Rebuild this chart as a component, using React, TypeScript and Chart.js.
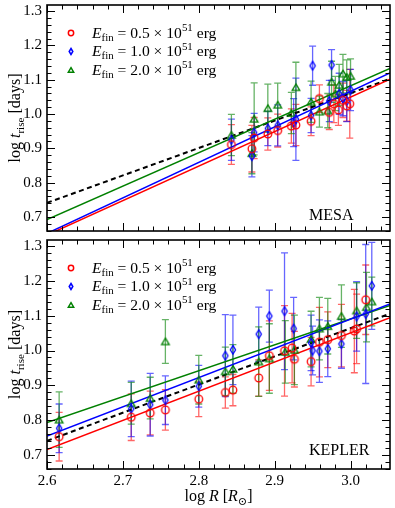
import React, { useEffect, useRef } from "react";
import { Chart, registerables } from "chart.js";

Chart.register(...registerables);

const FONT = '"Liberation Serif", "DejaVu Serif", serif';
const X_MIN = 2.6;
const X_MAX = 3.052;
const Y_MIN = 0.659;
const Y_MAX = 1.318;
const X_TICKS = [2.6, 2.7, 2.8, 2.9, 3.0];
const Y_TICKS = [0.7, 0.8, 0.9, 1.0, 1.1, 1.2, 1.3];
const MINOR_STEP = 0.02;

const ENERGY_LABELS = ["0.5", "1.0", "2.0"];
const SERIES_COLORS = ["#ff0000", "#0000ff", "#008000"];
const ERROR_COLORS = ["rgba(255,0,0,0.6)", "rgba(0,0,255,0.6)", "rgba(0,128,0,0.6)"];
const FIT_COLORS = ["#ff0000", "#0000ff", "#008000", "#000000"];

// ---------- MESA (top panel) ----------
const MESA_RED_X = [2.843, 2.870, 2.873, 2.891, 2.904, 2.922, 2.928, 2.948, 2.959, 2.972, 2.978, 2.984, 2.990, 2.995, 2.999];
const MESA_RED_Y = [0.911, 0.899, 0.930, 0.942, 0.952, 0.965, 0.968, 0.979, 1.045, 1.005, 1.030, 1.012, 1.040, 1.024, 1.030];
const MESA_RED_ERR = [0.058, 0.068, 0.06, 0.047, 0.048, 0.05, 0.06, 0.042, 0.04, 0.05, 0.055, 0.045, 0.05, 0.045, 0.1];

const MESA_BLUE_X = [2.843, 2.870, 2.873, 2.891, 2.904, 2.925, 2.928, 2.948, 2.950, 2.972, 2.975, 2.985, 2.990, 2.995, 3.000];
const MESA_BLUE_Y = [0.925, 0.877, 0.946, 0.958, 0.967, 0.975, 0.985, 0.996, 1.141, 1.038, 1.143, 1.059, 1.045, 1.038, 1.070];
const MESA_BLUE_ERR = [0.06, 0.06, 0.056, 0.05, 0.06, 0.07, 0.12, 0.05, 0.057, 0.06, 0.045, 0.06, 0.05, 0.06, 0.06];

const MESA_GREEN_X = [2.843, 2.870, 2.873, 2.891, 2.904, 2.922, 2.928, 2.948, 2.959, 2.970, 2.975, 2.980, 2.985, 2.990, 2.995, 3.000];
const MESA_GREEN_Y = [0.939, 0.886, 0.986, 1.017, 1.027, 1.003, 1.078, 1.036, 1.007, 1.010, 1.094, 1.060, 1.085, 1.118, 1.108, 1.111];
const MESA_GREEN_ERR = [0.06, 0.06, 0.105, 0.07, 0.063, 0.06, 0.073, 0.06, 0.045, 0.05, 0.06, 0.05, 0.06, 0.056, 0.05, 0.05];

// fit lines: value at X_MIN (2.6) and slope; order red, blue, green, all (dashed)
const MESA_FIT_AT_XMIN = [0.647, 0.652, 0.692, 0.741];
const MESA_FIT_SLOPE = [1.006, 1.035, 0.975, 0.80];

// ---------- KEPLER (bottom panel) ----------
const KEP_RED_X = [2.616, 2.711, 2.736, 2.756, 2.800, 2.835, 2.845, 2.879, 2.893, 2.913, 2.923, 2.926, 2.948, 2.959, 2.970, 2.988, 3.005, 3.008, 3.020];
const KEP_RED_Y = [0.752, 0.808, 0.820, 0.829, 0.860, 0.879, 0.886, 0.921, 0.985, 0.999, 1.007, 0.975, 0.968, 1.024, 1.031, 1.043, 1.056, 1.062, 1.146];
const KEP_RED_ERR = [0.07, 0.067, 0.063, 0.058, 0.05, 0.045, 0.045, 0.052, 0.1, 0.13, 0.1, 0.08, 0.07, 0.1, 0.08, 0.09, 0.12, 0.1, 0.1];

const KEP_BLUE_X = [2.616, 2.711, 2.736, 2.756, 2.800, 2.835, 2.845, 2.879, 2.893, 2.913, 2.925, 2.948, 2.950, 2.959, 2.970, 2.988, 3.008, 3.020, 3.028];
const KEP_BLUE_Y = [0.776, 0.832, 0.844, 0.857, 0.897, 0.985, 1.002, 1.047, 1.099, 1.113, 1.063, 1.022, 1.000, 0.998, 1.005, 1.019, 1.098, 1.105, 1.186];
const KEP_BLUE_ERR = [0.07, 0.08, 0.09, 0.07, 0.06, 0.118, 0.1, 0.078, 0.075, 0.168, 0.09, 0.08, 0.07, 0.09, 0.08, 0.07, 0.1, 0.2, 0.125];

const KEP_GREEN_X = [2.616, 2.711, 2.736, 2.756, 2.800, 2.835, 2.845, 2.879, 2.893, 2.914, 2.926, 2.948, 2.959, 2.970, 2.988, 3.008, 3.021, 3.028];
const KEP_GREEN_Y = [0.801, 0.848, 0.863, 1.026, 0.916, 0.940, 0.947, 0.968, 0.977, 0.996, 1.002, 1.033, 1.063, 1.070, 1.099, 1.115, 1.125, 1.141];
const KEP_GREEN_ERR = [0.08, 0.06, 0.06, 0.063, 0.07, 0.07, 0.07, 0.1, 0.1, 0.09, 0.1, 0.08, 0.09, 0.08, 0.09, 0.08, 0.1, 0.07];

const KEP_FIT_AT_XMIN = [0.715, 0.754, 0.793, 0.740];
const KEP_FIT_SLOPE = [0.84, 0.84, 0.744, 0.81];

type Panel = {
  name: string;
  xs: number[][];
  ys: number[][];
  errs: number[][];
  fitAt: number[];
  fitSlope: number[];
};

const MESA: Panel = {
  name: "MESA",
  xs: [MESA_RED_X, MESA_BLUE_X, MESA_GREEN_X],
  ys: [MESA_RED_Y, MESA_BLUE_Y, MESA_GREEN_Y],
  errs: [MESA_RED_ERR, MESA_BLUE_ERR, MESA_GREEN_ERR],
  fitAt: MESA_FIT_AT_XMIN,
  fitSlope: MESA_FIT_SLOPE,
};

const KEPLER: Panel = {
  name: "KEPLER",
  xs: [KEP_RED_X, KEP_BLUE_X, KEP_GREEN_X],
  ys: [KEP_RED_Y, KEP_BLUE_Y, KEP_GREEN_Y],
  errs: [KEP_RED_ERR, KEP_BLUE_ERR, KEP_GREEN_ERR],
  fitAt: KEP_FIT_AT_XMIN,
  fitSlope: KEP_FIT_SLOPE,
};

function drawMarker(ctx: CanvasRenderingContext2D, s: number, cx: number, cy: number, k: number, lw: number) {
  ctx.save();
  ctx.strokeStyle = SERIES_COLORS[s];
  ctx.lineWidth = lw;
  ctx.beginPath();
  if (s === 0) {
    ctx.arc(cx, cy, 3.8 * k, 0, Math.PI * 2);
  } else if (s === 1) {
    ctx.moveTo(cx, cy - 4.3 * k);
    ctx.lineTo(cx + 2.6 * k, cy);
    ctx.lineTo(cx, cy + 4.3 * k);
    ctx.lineTo(cx - 2.6 * k, cy);
    ctx.closePath();
  } else {
    ctx.moveTo(cx, cy - 3.3 * k);
    ctx.lineTo(cx + 3.8 * k, cy + 3.1 * k);
    ctx.lineTo(cx - 3.8 * k, cy + 3.1 * k);
    ctx.closePath();
  }
  ctx.stroke();
  ctx.restore();
}

function makeMarker(s: number): HTMLCanvasElement {
  const c = document.createElement("canvas");
  c.width = 14;
  c.height = 14;
  const ctx = c.getContext("2d")!;
  drawMarker(ctx, s, 7, 7, 1, 1.3);
  return c;
}

type Run = { t: string; italic?: boolean; scale?: number; dy?: number };

function runsWidth(ctx: CanvasRenderingContext2D, runs: Run[], size: number) {
  let w = 0;
  for (const r of runs) {
    const s = size * (r.scale ?? 1);
    ctx.font = `${r.italic ? "italic " : ""}${s}px ${FONT}`;
    w += ctx.measureText(r.t).width;
  }
  return w;
}

function drawRuns(ctx: CanvasRenderingContext2D, runs: Run[], x: number, y: number, size: number) {
  let cx = x;
  for (const r of runs) {
    const s = size * (r.scale ?? 1);
    ctx.font = `${r.italic ? "italic " : ""}${s}px ${FONT}`;
    ctx.fillText(r.t, cx, y + (r.dy ?? 0) * size);
    cx += ctx.measureText(r.t).width;
  }
}

const legendRuns = (e: string): Run[] => [
  { t: "E", italic: true },
  { t: "fin", scale: 0.7, dy: 0.22 },
  { t: " = " + e + " × 10" },
  { t: "51", scale: 0.7, dy: -0.4 },
  { t: " erg" },
];

const yTitleRuns: Run[] = [
  { t: "log " },
  { t: "t", italic: true },
  { t: "rise", scale: 0.7, dy: 0.22 },
  { t: " [days]" },
];

const xTitleRuns: Run[] = [
  { t: "log " },
  { t: "R", italic: true },
  { t: " [" },
  { t: "R", italic: true },
  { t: "⊙", scale: 0.7, dy: 0.22 },
  { t: "]" },
];

const errorBarsPlugin = {
  id: "errorBars",
  beforeDatasetsDraw(chart: any) {
    const { ctx, chartArea, scales } = chart;
    const x = scales.x;
    const y = scales.y;
    ctx.save();
    ctx.beginPath();
    ctx.rect(chartArea.left, chartArea.top, chartArea.right - chartArea.left, chartArea.bottom - chartArea.top);
    ctx.clip();
    chart.data.datasets.forEach((ds: any) => {
      if (!ds.errors) return;
      ctx.strokeStyle = ds.errorColor;
      ctx.lineWidth = 1.3;
      ds.data.forEach((p: any, j: number) => {
        const e = ds.errors[j];
        const px = x.getPixelForValue(p.x);
        const y0 = y.getPixelForValue(p.y - e);
        const y1 = y.getPixelForValue(p.y + e);
        ctx.beginPath();
        ctx.moveTo(px, y0);
        ctx.lineTo(px, y1);
        ctx.moveTo(px - 3.5, y0);
        ctx.lineTo(px + 3.5, y0);
        ctx.moveTo(px - 3.5, y1);
        ctx.lineTo(px + 3.5, y1);
        ctx.stroke();
      });
    });
    ctx.restore();
  },
};

const framePlugin = {
  id: "frame",
  afterDraw(chart: any) {
    const { ctx, chartArea, scales } = chart;
    const { left, right, top, bottom } = chartArea;
    const x = scales.x;
    const y = scales.y;
    ctx.save();
    ctx.strokeStyle = "#000";
    ctx.lineWidth = 1;
    const nx = Math.round((X_MAX - X_MIN) / MINOR_STEP);
    for (let i = 0; i <= nx; i++) {
      const v = X_MIN + i * MINOR_STEP;
      if (v > X_MAX) break;
      const px = Math.round(x.getPixelForValue(v)) + 0.5;
      const len = i % 5 === 0 ? 8 : 4.5;
      ctx.beginPath();
      ctx.moveTo(px, bottom);
      ctx.lineTo(px, bottom - len);
      ctx.moveTo(px, top);
      ctx.lineTo(px, top + len);
      ctx.stroke();
    }
    const y0 = 0.66;
    const ny = Math.round((Y_MAX - y0) / MINOR_STEP);
    for (let i = 0; i <= ny; i++) {
      const v = y0 + i * MINOR_STEP;
      if (v > Y_MAX) break;
      const py = Math.round(y.getPixelForValue(v)) + 0.5;
      const isMajor = Math.abs(v * 10 - Math.round(v * 10)) < 1e-6;
      const len = isMajor ? 8 : 4.5;
      ctx.beginPath();
      ctx.moveTo(left, py);
      ctx.lineTo(left + len, py);
      ctx.moveTo(right, py);
      ctx.lineTo(right - len, py);
      ctx.stroke();
    }
    ctx.lineWidth = 1.6;
    ctx.strokeRect(left, top, right - left, bottom - top);
    ctx.restore();
  },
};

const decorPlugin = {
  id: "decor",
  afterDraw(chart: any, _args: any, opts: any) {
    const { ctx, chartArea } = chart;
    ctx.save();
    ctx.fillStyle = "#000";
    ctx.textBaseline = "alphabetic";
    ctx.textAlign = "left";
    for (let s = 0; s < 3; s++) {
      const cy = chartArea.top + 28 + s * 18.5;
      drawMarker(ctx, s, chartArea.left + 24, cy, 0.7, 1.5);
      drawRuns(ctx, legendRuns(ENERGY_LABELS[s]), chartArea.left + 45, cy + 4.5, 15.6);
    }
    ctx.font = `16px ${FONT}`;
    ctx.fillText(opts.label, chartArea.left + 262, chartArea.top + 215);

    // y title
    const yc = (chartArea.top + chartArea.bottom) / 2;
    const wy = runsWidth(ctx, yTitleRuns, 16);
    ctx.save();
    ctx.translate(20, yc);
    ctx.rotate(-Math.PI / 2);
    drawRuns(ctx, yTitleRuns, -wy / 2, 0, 16);
    ctx.restore();

    if (opts.xTitle) {
      const xc = (chartArea.left + chartArea.right) / 2;
      const wx = runsWidth(ctx, xTitleRuns, 16);
      drawRuns(ctx, xTitleRuns, xc - wx / 2, chartArea.bottom + 32, 16);
    }
    ctx.restore();
  },
};

function buildConfig(panel: Panel, bottom: boolean, markers: HTMLCanvasElement[]): any {
  const datasets: any[] = [];
  for (let s = 0; s < 3; s++) {
    datasets.push({
      type: "scatter",
      data: panel.xs[s].map((xv, i) => ({ x: xv, y: panel.ys[s][i] })),
      errors: panel.errs[s],
      errorColor: ERROR_COLORS[s],
      pointStyle: markers[s],
      pointRadius: 4,
      showLine: false,
      order: 0,
    });
  }
  for (let s = 0; s < 4; s++) {
    datasets.push({
      type: "line",
      data: [
        { x: X_MIN, y: panel.fitAt[s] },
        { x: X_MAX, y: panel.fitAt[s] + panel.fitSlope[s] * (X_MAX - X_MIN) },
      ],
      borderColor: FIT_COLORS[s],
      borderWidth: s === 3 ? 2 : 1.5,
      borderDash: s === 3 ? [5, 3.5] : [],
      pointRadius: 0,
      fill: false,
      clip: 0,
      order: 1,
    });
  }
  return {
    type: "scatter",
    data: { datasets },
    plugins: [errorBarsPlugin, framePlugin, decorPlugin],
    options: {
      animation: false,
      responsive: false,
      devicePixelRatio: 1,
      events: [],
      layout: { padding: { left: 0, right: 1, top: bottom ? 0 : 1, bottom: bottom ? 0 : 1 } },
      plugins: {
        legend: { display: false },
        tooltip: { enabled: false },
        decor: { label: panel.name, xTitle: bottom },
      },
      scales: {
        x: {
          type: "linear",
          min: X_MIN,
          max: X_MAX,
          grid: { display: false, drawTicks: false },
          border: { display: false },
          ticks: {
            display: bottom,
            color: "#000",
            font: { family: FONT, size: 15 },
            padding: 3,
            callback: (v: any) => Number(v).toFixed(1),
          },
          afterBuildTicks: (s: any) => {
            s.ticks = X_TICKS.map((v) => ({ value: v }));
          },
          afterFit: (s: any) => {
            s.height = bottom ? 39 : 0;
            s.paddingLeft = 0;
            s.paddingRight = 0;
          },
        },
        y: {
          type: "linear",
          min: Y_MIN,
          max: Y_MAX,
          grid: { display: false, drawTicks: false },
          border: { display: false },
          ticks: {
            color: "#000",
            font: { family: FONT, size: 15 },
            padding: 5,
            callback: (v: any) => Number(v).toFixed(1),
          },
          afterBuildTicks: (s: any) => {
            s.ticks = Y_TICKS.map((v) => ({ value: v }));
          },
          afterFit: (s: any) => {
            s.width = 47;
            s.paddingTop = 0;
            s.paddingBottom = 0;
          },
        },
      },
    },
  };
}

function PanelChart({ panel, height, top, bottom }: { panel: Panel; height: number; top: number; bottom: boolean }) {
  const ref = useRef<HTMLCanvasElement>(null);
  useEffect(() => {
    const markers = [0, 1, 2].map(makeMarker);
    const chart = new Chart(ref.current!, buildConfig(panel, bottom, markers));
    return () => chart.destroy();
  }, [panel, bottom]);
  return (
    <canvas
      ref={ref}
      width={395}
      height={height}
      style={{ position: "absolute", left: 0, top, width: 395, height, display: "block" }}
    />
  );
}

export default function App() {
  return (
    <div style={{ position: "fixed", left: 0, top: 0, width: 395, height: 508, background: "#fff" }}>
      <PanelChart panel={MESA} height={236} top={0} bottom={false} />
      <PanelChart panel={KEPLER} height={273} top={235} bottom={true} />
    </div>
  );
}
